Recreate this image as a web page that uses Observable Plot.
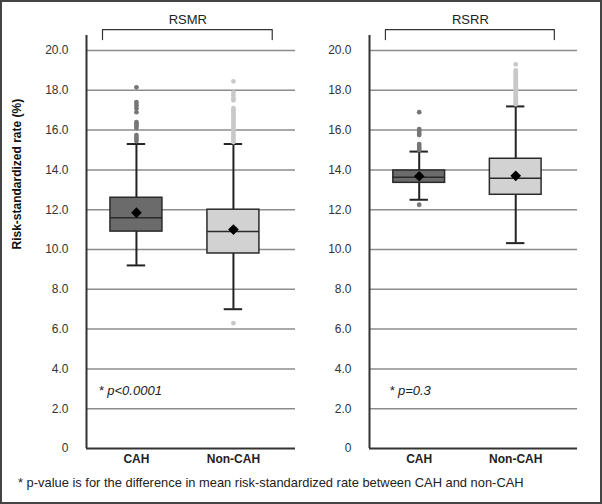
<!DOCTYPE html>
<html>
<head>
<meta charset="utf-8">
<script src="https://cdn.jsdelivr.net/npm/d3@7"></script>
<script src="https://cdn.jsdelivr.net/npm/@observablehq/plot@0.6"></script>
<style>
  html, body { margin: 0; padding: 0; background: #fff; }
  #fig { position: relative; width: 602px; height: 504px; background: #fff; font-family: "Liberation Sans", Arial, sans-serif; overflow: hidden; }
  #left, #right { position: absolute; top: 0; }
  #left { left: 0; }
  #right { left: 300px; }
  #note { position: absolute; left: 18px; top: 475px; font-size: 12.9px; color: #222; white-space: nowrap; }
  #border { position: absolute; left: 0; top: 0; width: 602px; height: 504px; box-sizing: border-box; border: 2px solid #444; pointer-events: none; }
</style>
</head>
<body>
<div id="fig">
  <div id="left"></div>
  <div id="right"></div>
  <div id="note">* p-value is for the difference in mean risk-standardized rate between CAH and non-CAH</div>
  <div id="border"></div>
</div>
<script>
// ---- data ----
const groups = ["CAH", "Non-CAH"];
const groupPos = [1, 2];
const yTicks = [0, 2, 4, 6, 8, 10, 12, 14, 16, 18, 20];
const yTickLabels = ["0", "2.0", "4.0", "6.0", "8.0", "10.0", "12.0", "14.0", "16.0", "18.0", "20.0"];
const yTitle = "Risk-standardized rate (%)";

// RSMR
const rsmrQ1 = [10.9, 9.8];
const rsmrMedian = [11.6, 10.9];
const rsmrQ3 = [12.6, 12.0];
const rsmrLow = [9.2, 7.0];
const rsmrHigh = [15.3, 15.3];
const rsmrMean = [11.85, 11.0];
const rsmrOutCAH = [18.15, 17.4, 17.25, 17.1, 16.9, 16.4, 16.3, 16.2, 16.1, 15.75, 15.65, 15.55, 15.45];
const rsmrOutNon = [18.45, 17.9, 17.75, 17.6, 17.5, 17.1, 17.0, 16.9, 16.8, 16.7, 16.6, 16.5, 16.4, 16.3, 16.2, 16.1, 16.0, 15.9, 15.8, 15.7, 15.6, 15.5, 15.4, 6.3];
const rsmrP = "* p<0.0001";

// RSRR
const rsrrQ1 = [13.35, 12.75];
const rsrrMedian = [13.63, 13.58];
const rsrrQ3 = [13.97, 14.56];
const rsrrLow = [12.5, 10.32];
const rsrrHigh = [14.92, 17.19];
const rsrrMean = [13.68, 13.7];
const rsrrOutCAH = [16.9, 16.05, 15.95, 15.85, 15.75, 15.3, 15.2, 15.1, 15.0, 12.25];
const rsrrOutNon = [19.3, 19.0, 18.9, 18.8, 18.7, 18.6, 18.5, 18.4, 18.3, 18.2, 18.1, 18.0, 17.9, 17.8, 17.7, 17.6, 17.5, 17.4, 17.3];
const rsrrP = "* p=0.3";

const fillColors = ["#6b6b6b", "#d2d2d2"];
const outlierColors = ["#767676", "#c8c8c8"];

function panel({title, q1, med, q3, lo, hi, mean, outA, outB, pText, marginLeft, marginRight, yLabel, pX}) {
  const stats = groups.map((g, i) => ({g, pos: groupPos[i], q1: q1[i], med: med[i], q3: q3[i], lo: lo[i], hi: hi[i], mean: mean[i], fill: fillColors[i]}));
  const outliers = [
    ...outA.map(v => ({pos: groupPos[0], v, fill: outlierColors[0]})),
    ...outB.map(v => ({pos: groupPos[1], v, fill: outlierColors[1]}))
  ];
  const half = 0.268, cap = 0.095;
  const marks = [
    Plot.ruleY(yTicks.filter(d => d > 0), {stroke: "#8c8c8c", strokeWidth: 1.5}),
    Plot.axisY({ticks: yTicks, tickFormat: d => yTickLabels[yTicks.indexOf(d)], tickSize: 0, tickPadding: 18, fontSize: 12, fill: "#333", label: null}),
    Plot.axisX({ticks: groupPos, tickFormat: d => groups[d - 1], tickSize: 0, tickPadding: 6, fontWeight: "bold", fontSize: 12, fill: "#222", label: null}),
    Plot.ruleY([0], {stroke: "#333", strokeWidth: 2}),
    Plot.ruleX([0.485], {y1: 0, y2: 20.75, stroke: "#333", strokeWidth: 2}),
    Plot.line([{x: 0.65, y: 20.55}, {x: 0.65, y: 21.05}, {x: 2.4, y: 21.05}, {x: 2.4, y: 20.55}], {x: "x", y: "y", stroke: "#333", strokeWidth: 1.2}),
    Plot.text([title], {x: 1.53, y: 21.56, text: d => d, fontSize: 13, fill: "#222"}),
    Plot.ruleX(stats, {x: "pos", y1: "lo", y2: "hi", stroke: "#222", strokeWidth: 2}),
    Plot.ruleY(stats, {y: "lo", x1: d => d.pos - cap, x2: d => d.pos + cap, stroke: "#222", strokeWidth: 2}),
    Plot.ruleY(stats, {y: "hi", x1: d => d.pos - cap, x2: d => d.pos + cap, stroke: "#222", strokeWidth: 2}),
    Plot.rect(stats, {x1: d => d.pos - half, x2: d => d.pos + half, y1: "q1", y2: "q3", fill: "fill", stroke: "#2a2a2a", strokeWidth: 1.5}),
    Plot.ruleY(stats, {y: "med", x1: d => d.pos - half, x2: d => d.pos + half, stroke: "#2a2a2a", strokeWidth: 1.5}),
    Plot.dot(outliers, {x: "pos", y: "v", r: 2.4, fill: "fill", stroke: null}),
    Plot.dot(stats, {x: "pos", y: "mean", symbol: "diamond2", r: 4.8, fill: "#000"}),
    Plot.text([pText], {x: pX, y: 2.91, text: d => d, textAnchor: "start", fontStyle: "italic", fontSize: 13, fill: "#222"})
  ];
  if (yLabel) {
    marks.push(Plot.text([yLabel], {frameAnchor: "left", rotate: -90, dx: -69, text: d => d, fontWeight: "bold", fontSize: 12, fill: "#111"}));
  }
  return Plot.plot({
    width: 300,
    height: 470,
    marginLeft,
    marginRight,
    marginTop: 50,
    marginBottom: 22,
    style: {fontFamily: '"Liberation Sans", Arial, sans-serif', fontSize: "12px", color: "#333", background: "transparent", overflow: "visible"},
    x: {type: "linear", domain: [0.485, 2.64], axis: null},
    y: {domain: [0, 20], axis: null},
    marks
  });
}

document.getElementById("left").appendChild(panel({
  title: "RSMR", q1: rsmrQ1, med: rsmrMedian, q3: rsmrQ3, lo: rsmrLow, hi: rsmrHigh, mean: rsmrMean,
  outA: rsmrOutCAH, outB: rsmrOutNon, pText: rsmrP, marginLeft: 86, marginRight: 5, yLabel: yTitle, pX: 0.61
}));
document.getElementById("right").appendChild(panel({
  title: "RSRR", q1: rsrrQ1, med: rsrrMedian, q3: rsrrQ3, lo: rsrrLow, hi: rsrrHigh, mean: rsrrMean,
  outA: rsrrOutCAH, outB: rsrrOutNon, pText: rsrrP, marginLeft: 69, marginRight: 23, yLabel: null, pX: 0.69
}));
</script>
</body>
</html>
